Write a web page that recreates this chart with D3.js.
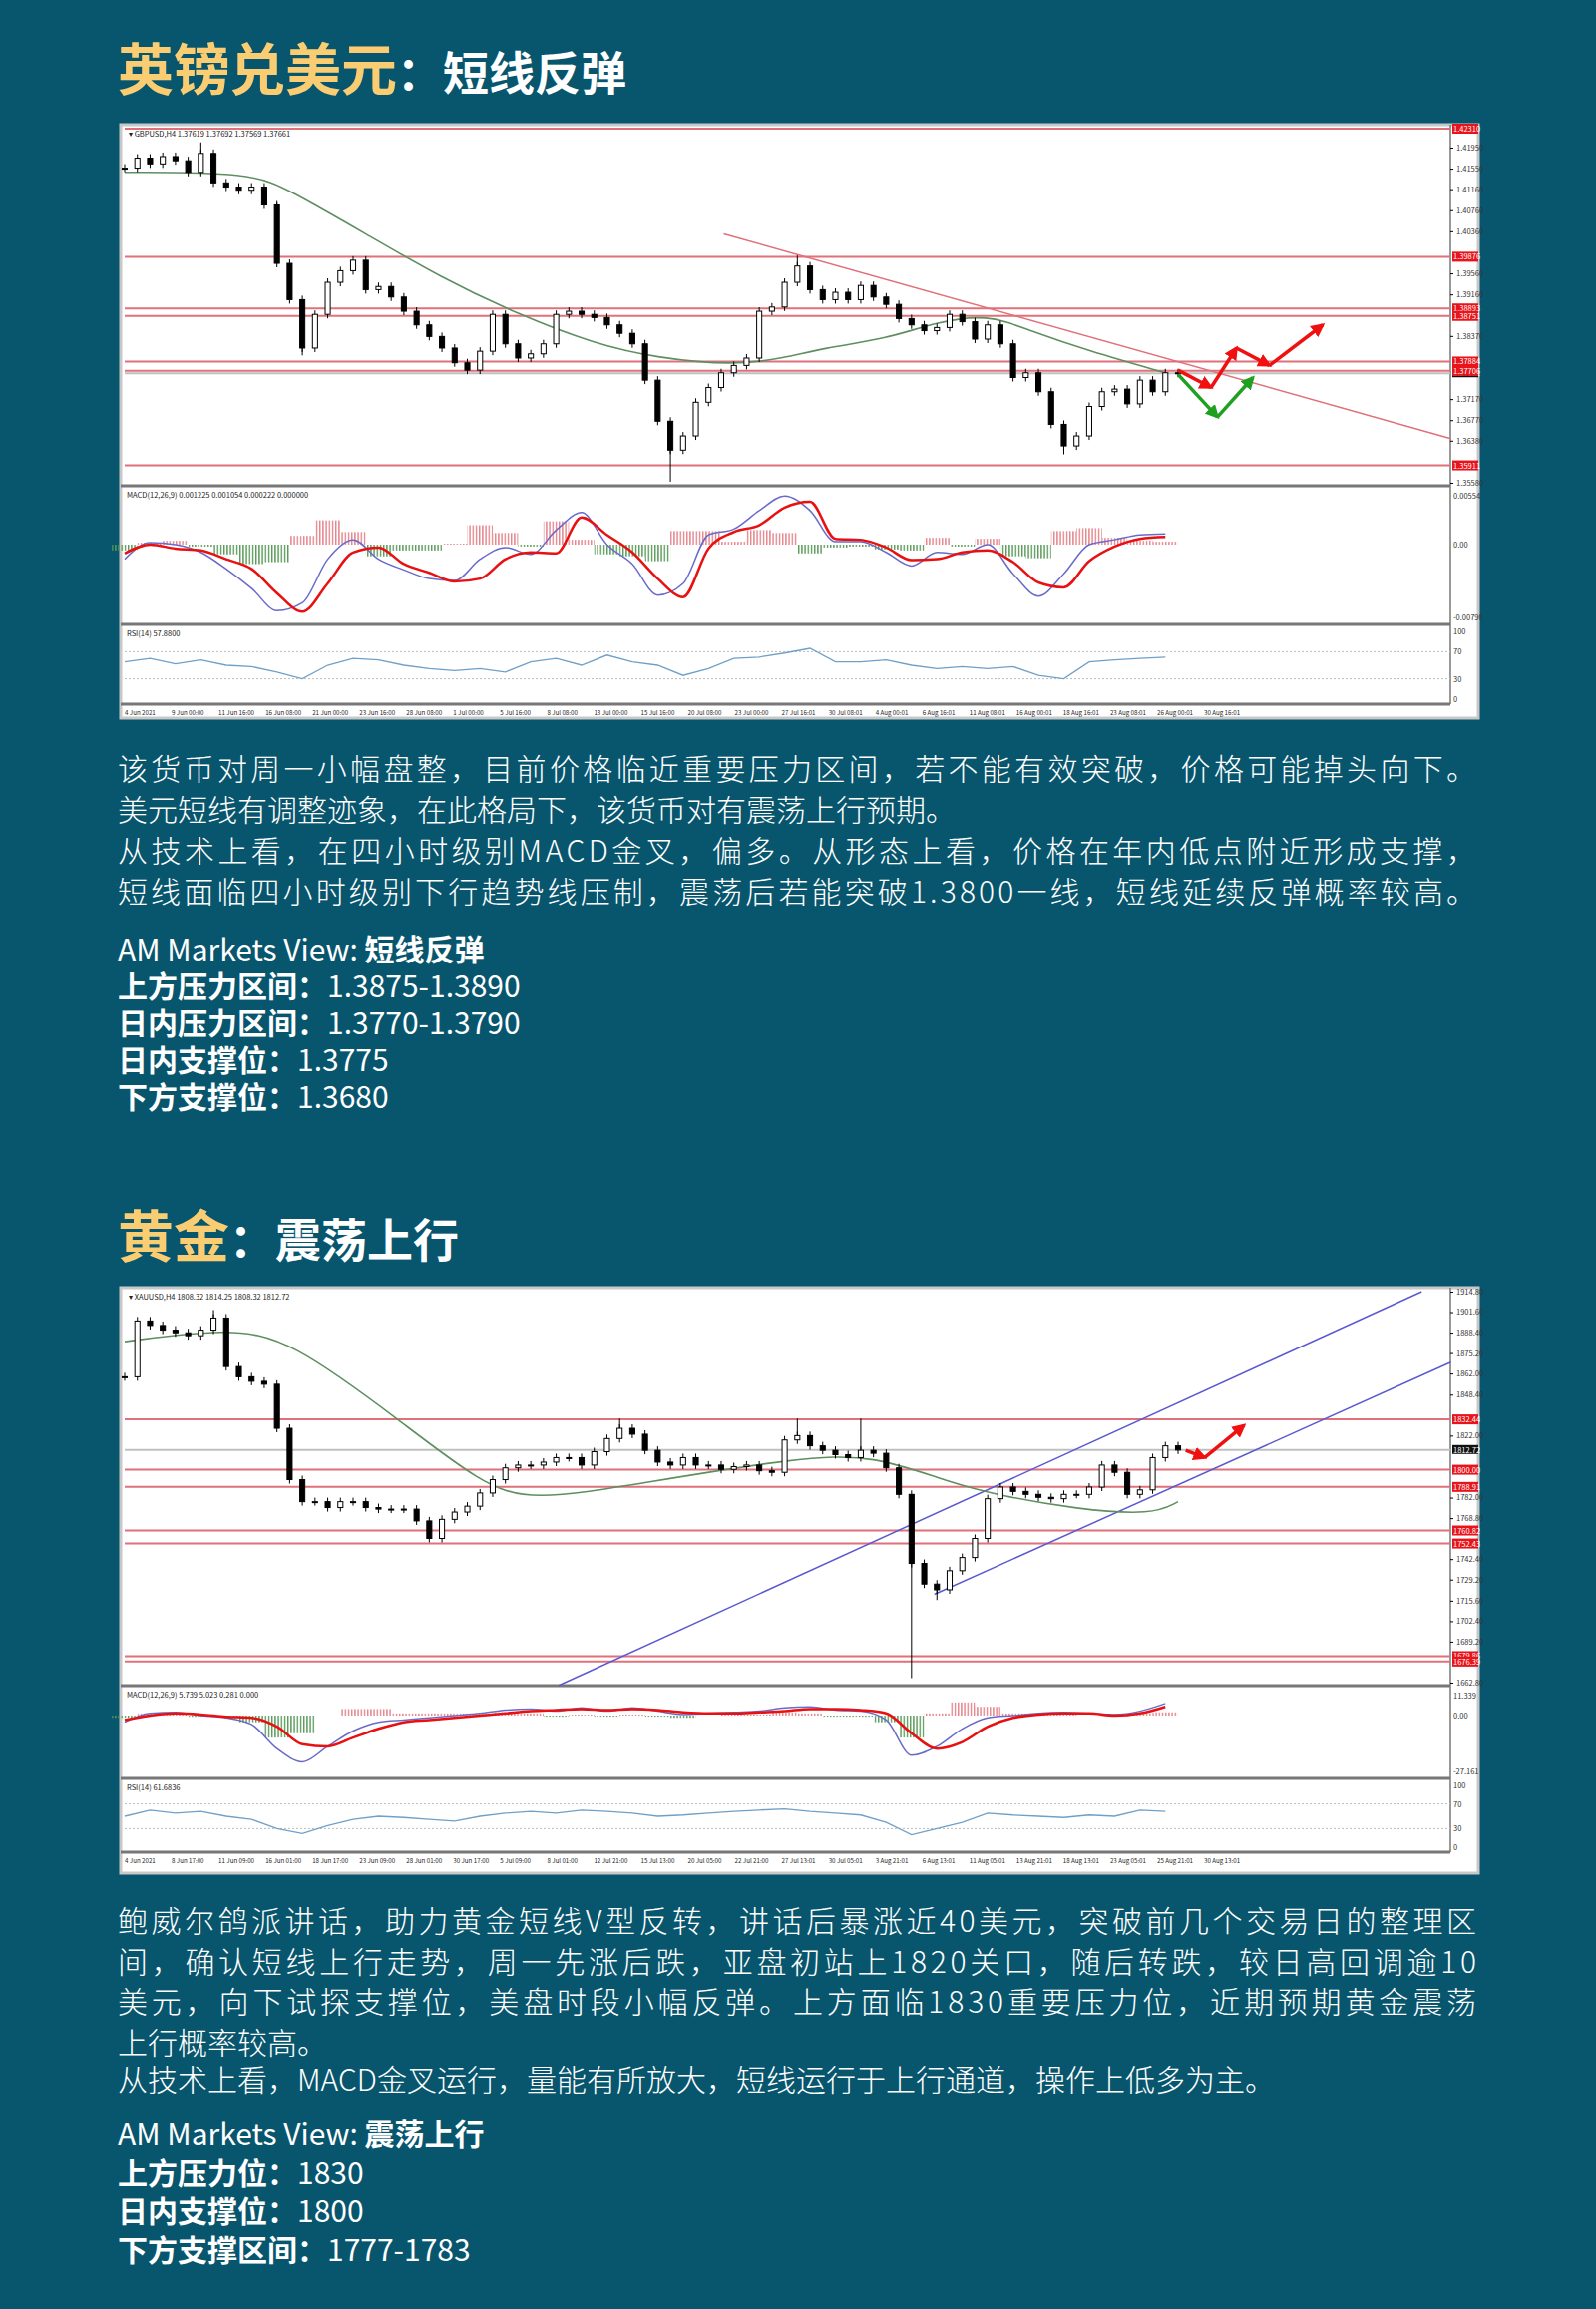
<!DOCTYPE html>
<html lang="zh">
<head>
<meta charset="UTF-8">
<title>AM Markets View</title>
<script src="https://cdn.jsdelivr.net/npm/d3@7"></script>
<style>
  body { margin: 0; background: #08566e; }
  text { font-family: "Noto Sans CJK SC", "Noto Sans", sans-serif; }
</style>
</head>
<body>
<script>
// ---------- GBPUSD data ----------
const gbpClose = [1.4156,1.4175,1.4164,1.4178,1.4170,1.4148,1.4184,1.4128,1.4120,1.4114,1.4120,1.4086,
  1.3975,1.3906,1.3814,1.3878,1.3939,1.3961,1.3981,1.3925,1.3931,1.3911,1.3884,1.3858,1.3836,1.3814,
  1.3786,1.3772,1.3808,1.3878,1.3822,1.3795,1.3803,1.3822,1.3878,1.3884,1.3878,1.3872,1.3858,1.3842,
  1.3822,1.3753,1.3675,1.3620,1.3647,1.3711,1.3739,1.3767,1.3781,1.3795,1.3884,1.3892,1.3939,1.3970,
  1.3925,1.3906,1.3920,1.3906,1.3933,1.3911,1.3897,1.3870,1.3858,1.3847,1.3853,1.3878,1.3864,1.3831,
  1.3858,1.3822,1.3758,1.3767,1.3731,1.3669,1.3628,1.3647,1.3703,1.3731,1.3736,1.3708,1.3753,1.3731,
  1.3767,1.3766];
const gbpWicks = [[6, 1.4205], [12, 1.4090], [14, 1.3800], [43, 1.3560], [53, 1.3990], [74, 1.3612]];
const gbpMaBar = [0,10,13,19,25,31,37,42,48,52,55,60,64,68,71,76,82];
const gbpMaVal = [1.4148,1.4148,1.4114,1.4031,1.3947,1.3878,1.3822,1.3795,1.3781,1.3795,1.3814,1.3831,
  1.3864,1.3878,1.3850,1.3808,1.3767];
const gbpLevels = [1.42310, 1.39876, 1.38893, 1.38751, 1.37884, 1.37706, 1.35911];
const gbpLast = 1.37661;
const gbpTicks = [1.41950,1.41550,1.41160,1.40760,1.40360,1.39560,1.39160,1.38370,1.37570,1.37170,
  1.36770,1.36380,1.35580];
const gbpTrend = [[47.2, 1.4031], [104.5, 1.3642]];
const gbpRedArrow = [[83, 1.3772], [85.6, 1.3739], [87.6, 1.3814], [90.2, 1.3781], [94.4, 1.3858]];
const gbpGreenArrow = [[83, 1.3764], [86.1, 1.3683], [88.9, 1.3758]];
// MACD values in 1e-3, sampled every 2 bars
const gbpSignal = [-0.9,0.0,-0.4,-0.6,-1.5,-2.5,-5.0,-6.9,-4.0,-0.8,-0.3,-2.0,-2.9,-3.8,-3.5,-1.5,-0.8,
  -0.9,2.8,1.0,-0.8,-3.5,-5.4,-0.4,1.3,2.0,3.8,4.4,0.6,0.5,-0.3,-1.6,-1.5,-0.8,-0.6,-1.8,-3.9,-4.4,-1.7,
  -0.2,0.6,0.8];
const gbpMacd = [-1.5,0.2,0.0,-0.8,-2.5,-4.5,-6.8,-6.0,-1.5,0.5,-1.5,-2.6,-3.5,-3.7,-1.5,-0.3,-1.0,1.5,
  3.3,0.0,-2.0,-5.2,-4.0,1.0,1.6,3.5,5.0,3.5,0.3,0.3,-0.8,-2.2,-0.8,-1.0,0.0,-3.0,-5.3,-3.0,0.0,0.5,1.0,1.1];
const gbpHist = [-0.6,0.2,0.4,-0.2,-1.0,-2.0,-1.8,0.9,2.5,1.3,-1.2,-0.6,-0.6,0.1,2.0,1.2,-0.2,2.4,0.5,
  -1.0,-1.2,-1.7,1.4,1.4,0.3,1.5,1.2,-0.9,-0.3,-0.2,-0.5,-0.6,0.7,-0.2,0.6,-1.2,-1.4,1.4,1.7,0.7,0.4,0.3];
const gbpRsi = [55,60,52,58,50,48,40,30,50,60,58,50,45,42,45,40,55,60,50,65,55,50,35,45,60,62,68,75,55,
  55,58,50,45,48,45,48,35,30,55,58,60,62];
const gbpDates = ["4 Jun 2021","9 Jun 00:00","11 Jun 16:00","16 Jun 08:00","21 Jun 00:00","23 Jun 16:00",
  "28 Jun 08:00","1 Jul 00:00","5 Jul 16:00","8 Jul 08:00","13 Jul 00:00","15 Jul 16:00","20 Jul 08:00",
  "23 Jul 00:00","27 Jul 16:01","30 Jul 08:01","4 Aug 00:01","6 Aug 16:01","11 Aug 08:01","16 Aug 00:01",
  "18 Aug 16:01","23 Aug 08:01","26 Aug 00:01","30 Aug 16:01"];

// ---------- XAUUSD data ----------
const xauClose = [1859.9,1895.9,1893.0,1890.0,1888.3,1886.4,1890.0,1897.8,1866.5,1859.9,1857.0,1855.1,
  1826.7,1793.6,1779.4,1779.4,1775.6,1779.4,1779.4,1775.6,1774.6,1774.6,1774.6,1767.0,1755.7,1768.0,
  1772.7,1776.5,1785.0,1793.6,1801.2,1803.0,1803.0,1804.9,1807.8,1807.8,1803.0,1811.6,1820.1,1826.7,
  1822.9,1812.5,1804.9,1803.0,1807.8,1803.0,1803.0,1800.2,1802.0,1803.0,1799.3,1798.3,1819.2,1822.0,
  1815.4,1812.5,1809.7,1807.8,1812.5,1810.6,1801.2,1784.1,1739.6,1726.3,1722.6,1734.9,1743.4,1755.7,
  1781.3,1788.8,1786.0,1784.1,1782.2,1781.3,1784.1,1784.1,1788.8,1803.0,1798.3,1784.1,1787.0,1807.8,
  1815.4,1812.7];
const xauWicks = [[7, 1903.0], [39, 1833.0], [53, 1833.0], [58, 1833.0], [62, 1665.7], [64, 1716.0]];
const xauMaBar = [0,8,13,22,28,32,41,53,59,65,69,75,81,83];
const xauMaVal = [1882.6,1891.1,1884.5,1829.6,1791.7,1779.4,1791.7,1807.8,1809.7,1791.7,1783.2,1774.6,
  1770.8,1779.4];
const xauLevels = [1832.44, 1800.00, 1788.91, 1760.82, 1752.43, 1679.86, 1676.39];
const xauLast = 1812.72;
const xauTicks = [1914.80,1901.60,1888.40,1875.20,1862.00,1848.40,1822.00,1795.60,1782.00,1768.80,
  1742.40,1729.20,1715.60,1702.40,1689.20,1662.80];
const xauChannelUp = [[34.2, 1661.0], [102.2, 1914.8]];
const xauChannelLow = [[63.8, 1719.7], [104.5, 1869.3]];
const xauRedArrow = [[83.6, 1812.5], [85.1, 1807.8], [88.2, 1828.6]];
const xauSignal = [-2,0,1,0.5,-0.5,-1,-5,-13,-14,-10,-6,-3,-2,-1,0,1,2,2.5,3,2.5,3,2.5,1.5,1,1,1.5,2,3,
  3,2.5,1,-8,-15,-12,-5,-1,0.5,1,1,0,1,4];
const xauMacd = [-3,1,1.5,0,-1,-4,-15,-21,-14,-7,-3,-2,-1,0,1,2.5,3,2,3.5,2,3.5,2,0.5,1,1.5,2,3.5,4,2.5,
  2,-2,-18,-14,-6,-1,0,1,1.5,1,0.5,2,5.5];
const xauHist = [-1,1,0.5,-0.5,-0.5,-3,-10,-8,0,3,3,1,1,1,1,1.5,1,-0.5,0.5,-0.5,0.5,-0.5,-1,0,0.5,0.5,
  1.5,1,-0.5,-0.5,-3,-10,1,6,4,1,0.5,0.5,0,0.5,1,1.5];
const xauRsi = [50,60,55,58,50,45,30,22,35,45,50,48,45,42,50,55,58,55,60,58,55,50,52,55,58,60,62,58,55,
  52,40,20,30,40,55,52,50,48,52,50,60,58];
const xauDates = ["4 Jun 2021","8 Jun 17:00","11 Jun 09:00","16 Jun 01:00","18 Jun 17:00","23 Jun 09:00",
  "28 Jun 01:00","30 Jun 17:00","5 Jul 09:00","8 Jul 01:00","12 Jul 21:00","15 Jul 13:00","20 Jul 05:00",
  "22 Jul 21:00","27 Jul 13:01","30 Jul 05:01","3 Aug 21:01","6 Aug 13:01","11 Aug 05:01","13 Aug 21:01",
  "18 Aug 13:01","23 Aug 05:01","25 Aug 21:01","30 Aug 13:01"];

// ---------- texts ----------
const gbpTitle = ["英镑兑美元", "：短线反弹"];
const gbpPara = [
  ["该货币对周一小幅盘整，目前价格临近重要压力区间，若不能有效突破，价格可能掉头向下。", true],
  ["美元短线有调整迹象，在此格局下，该货币对有震荡上行预期。", false],
  ["从技术上看，在四小时级别MACD金叉，偏多。从形态上看，价格在年内低点附近形成支撑，", true],
  ["短线面临四小时级别下行趋势线压制，震荡后若能突破1.3800一线，短线延续反弹概率较高。", true]];
const gbpView = [["AM Markets View:  ", "短线反弹"], ["上方压力区间：", "1.3875-1.3890"],
  ["日内压力区间：", "1.3770-1.3790"], ["日内支撑位：", "1.3775"], ["下方支撑位：", "1.3680"]];
const xauTitle = ["黄金", "：震荡上行"];
const xauPara = [
  ["鲍威尔鸽派讲话，助力黄金短线V型反转，讲话后暴涨近40美元，突破前几个交易日的整理区", true],
  ["间，确认短线上行走势，周一先涨后跌，亚盘初站上1820关口，随后转跌，较日高回调逾10", true],
  ["美元，向下试探支撑位，美盘时段小幅反弹。上方面临1830重要压力位，近期预期黄金震荡", true],
  ["上行概率较高。", false],
  ["从技术上看，MACD金叉运行，量能有所放大，短线运行于上行通道，操作上低多为主。", false]];
const xauView = [["AM Markets View: ", "震荡上行"], ["上方压力位：", "1830"], ["日内支撑位：", "1800"],
  ["下方支撑区间：", "1777-1783"]];

const W = 1600, H = 2315;
const svg = d3.select("body").append("svg").attr("width", W).attr("height", H);
svg.append("rect").attr("width", W).attr("height", H).attr("fill", "#08566e");

// vertical-stripe patterns for the MACD histogram
const defs = svg.append("defs");
[["histUp", "#e4848c"], ["histDn", "#5a9a5a"]].forEach(p => {
  const pat = defs.append("pattern").attr("id", p[0]).attr("patternUnits", "userSpaceOnUse")
    .attr("width", 3.2).attr("height", 10);
  pat.append("rect").attr("width", 1.4).attr("height", 10).attr("fill", p[1]);
});

const LEFT = 121, RIGHT = 1482, AXIS_X = 1454, PLOT_L = 125;
const small = sel => sel.attr("font-size", 7.5).attr("fill", "#333").attr("font-family", "DejaVu Sans");

function drawChart(o) {
  const g = svg.append("g");
  g.append("rect").attr("x", LEFT).attr("y", o.top).attr("width", RIGHT - LEFT).attr("height", o.bottom - o.top)
    .attr("fill", "#fff").attr("stroke", "#c8c8c8").attr("stroke-width", 3);

  const n = o.close.length;
  const xMax = (n - 1) * (AXIS_X - PLOT_L) / (1181 - PLOT_L);
  const x = d3.scaleLinear().domain([0, xMax]).range([PLOT_L, AXIS_X]);
  const y = d3.scaleLinear().domain(o.yDomain).range([o.mainBottom - 3, o.top + 4]);

  [o.mainBottom, o.macdBottom, o.rsiBottom].forEach(v => {
    g.append("line").attr("x1", LEFT).attr("x2", AXIS_X).attr("y1", v).attr("y2", v)
      .attr("stroke", "#777").attr("stroke-width", 3);
  });
  g.append("line").attr("x1", AXIS_X).attr("x2", AXIS_X).attr("y1", o.top).attr("y2", o.rsiBottom)
    .attr("stroke", "#777").attr("stroke-width", 1.5);

  // price axis: skip ticks hidden behind level labels
  const busy = o.levels.concat([o.last]);
  const ticks = o.ticks.filter(t => busy.every(v => Math.abs(y(v) - y(t)) > 9));
  const ax = g.append("g").attr("transform", `translate(${AXIS_X},0)`)
    .call(d3.axisRight(y).tickValues(ticks).tickSize(3).tickFormat(o.fmt));
  ax.select(".domain").remove();
  small(ax.selectAll("text"));

  g.append("line").attr("x1", PLOT_L).attr("x2", AXIS_X).attr("y1", y(o.last)).attr("y2", y(o.last))
    .attr("stroke", "#c0c0c0").attr("stroke-width", 2);
  g.append("rect").attr("x", AXIS_X + 2).attr("y", y(o.last) - 5).attr("width", 26).attr("height", 9).attr("fill", "#111");
  small(g.append("text").attr("x", AXIS_X + 3).attr("y", y(o.last) + 3).text(o.fmt(o.last))).attr("fill", "#fff");

  o.levels.forEach(v => {
    g.append("line").attr("x1", PLOT_L).attr("x2", AXIS_X).attr("y1", y(v)).attr("y2", y(v))
      .attr("stroke", "#e0707a").attr("stroke-width", 2);
    g.append("rect").attr("x", AXIS_X + 2).attr("y", y(v) - 5).attr("width", 26).attr("height", 10).attr("fill", "#e8141b");
    small(g.append("text").attr("x", AXIS_X + 3).attr("y", y(v) + 3).text(o.fmt(v))).attr("fill", "#fff");
  });

  const lineGen = d3.line().x(d => x(d[0])).y(d => y(d[1]));
  o.trends.forEach(t => {
    g.append("path").attr("d", lineGen(t.pts)).attr("fill", "none").attr("stroke", t.color).attr("stroke-width", 1.5);
  });

  g.append("path").attr("d", d3.line().x(d => x(d[0])).y(d => y(d[1])).curve(d3.curveBasis)(o.maBar.map((b, i) => [b, o.maVal[i]])))
    .attr("fill", "none").attr("stroke", "#5f8f60").attr("stroke-width", 1.6);

  // candles (open = previous close)
  const bw = (x(1) - x(0)) * 0.4;
  o.close.forEach((c, i) => {
    const op = i === 0 ? c : o.close[i - 1];
    const hi = Math.max(op, c), lo = Math.min(op, c);
    g.append("line").attr("x1", x(i)).attr("x2", x(i)).attr("y1", y(hi) - 4).attr("y2", y(lo) + 4)
      .attr("stroke", "#000").attr("stroke-width", 1);
    g.append("rect").attr("x", x(i) - bw / 2).attr("y", y(hi)).attr("width", bw).attr("height", Math.max(1, y(lo) - y(hi)))
      .attr("fill", c >= op ? "#fff" : "#000").attr("stroke", "#000").attr("stroke-width", 1);
  });
  o.wicks.forEach(w => {
    g.append("line").attr("x1", x(w[0])).attr("x2", x(w[0])).attr("y1", y(o.close[w[0]])).attr("y2", y(w[1]))
      .attr("stroke", "#000").attr("stroke-width", 1);
  });

  o.arrows.forEach((a, k) => {
    const mid = `${o.id}-arr${k}`;
    defs.append("marker").attr("id", mid).attr("viewBox", "0 0 10 10").attr("refX", 8).attr("refY", 5)
      .attr("markerWidth", 4).attr("markerHeight", 4).attr("orient", "auto")
      .append("path").attr("d", "M0,0L10,5L0,10z").attr("fill", a.color);
    for (let i = 0; i < a.pts.length - 1; i++) {
      g.append("path").attr("d", lineGen([a.pts[i], a.pts[i + 1]])).attr("stroke", a.color).attr("stroke-width", 3.5)
        .attr("fill", "none").attr("marker-end", `url(#${mid})`);
    }
  });

  small(g.append("text").attr("x", PLOT_L + 4).attr("y", o.top + 12).text(o.label)).attr("fill", "#222");

  // MACD panel
  const step = x(2) - x(0);
  const xm = i => x(i * 2);
  const ym = d3.scaleLinear().domain(o.macdDomain).range([o.macdBottom - 3, o.mainBottom + 5]);
  g.append("g").selectAll("rect").data(o.hist).join("rect")
    .attr("x", (d, i) => xm(i) - step / 2).attr("width", step)
    .attr("y", d => Math.min(ym(0), ym(d))).attr("height", d => Math.abs(ym(d) - ym(0)))
    .attr("fill", d => d >= 0 ? "url(#histUp)" : "url(#histDn)");
  g.append("path").attr("d", d3.line().x((d, i) => xm(i)).y(d => ym(d)).curve(d3.curveMonotoneX)(o.macd))
    .attr("fill", "none").attr("stroke", "#6a6ac8").attr("stroke-width", 1.5);
  g.append("path").attr("d", d3.line().x((d, i) => xm(i)).y(d => ym(d)).curve(d3.curveMonotoneX)(o.signal))
    .attr("fill", "none").attr("stroke", "#e81010").attr("stroke-width", 2.5);
  small(g.append("text").attr("x", PLOT_L + 2).attr("y", o.mainBottom + 12).text(o.macdLabel)).attr("fill", "#222");
  small(g.append("text").attr("x", AXIS_X + 3).attr("y", o.mainBottom + 13).text(o.macdTicks[0]));
  small(g.append("text").attr("x", AXIS_X + 3).attr("y", ym(0) + 3).text("0.00"));
  small(g.append("text").attr("x", AXIS_X + 3).attr("y", o.macdBottom - 4).text(o.macdTicks[1]));

  // RSI panel
  const yr = d3.scaleLinear().domain([0, 100]).range([o.rsiBottom - 5, o.macdBottom + 7]);
  [70, 30].forEach(v => g.append("line").attr("x1", PLOT_L).attr("x2", AXIS_X).attr("y1", yr(v)).attr("y2", yr(v))
    .attr("stroke", "#bbb").attr("stroke-dasharray", "2,2"));
  g.append("path").attr("d", d3.line().x((d, i) => xm(i)).y(d => yr(d))(o.rsi))
    .attr("fill", "none").attr("stroke", "#6fa0c8").attr("stroke-width", 1.3);
  small(g.append("text").attr("x", PLOT_L + 2).attr("y", o.macdBottom + 12).text(o.rsiLabel)).attr("fill", "#222");
  [100, 70, 30, 0].forEach(v => small(g.append("text").attr("x", AXIS_X + 3).attr("y", yr(v) + 3).text(v)));

  // date labels
  const xd = d3.scalePoint().domain(o.dates).range([PLOT_L, 1207]);
  o.dates.forEach(d => {
    g.append("text").attr("x", xd(d)).attr("y", o.rsiBottom + 11).attr("font-size", 6.2).attr("fill", "#222")
      .attr("font-family", "DejaVu Sans Condensed, DejaVu Sans").text(d);
  });
}

drawChart({
  id: "gbp", top: 125, bottom: 720, mainBottom: 487, macdBottom: 626, rsiBottom: 706,
  close: gbpClose, wicks: gbpWicks, maBar: gbpMaBar, maVal: gbpMaVal, levels: gbpLevels, last: gbpLast,
  ticks: gbpTicks, yDomain: [1.3558, 1.4231], fmt: d3.format(".5f"),
  trends: [{ pts: gbpTrend, color: "#e0707a" }],
  arrows: [{ pts: gbpRedArrow, color: "#f01010" }, { pts: gbpGreenArrow, color: "#20a020" }],
  label: "▾ GBPUSD,H4  1.37619 1.37692 1.37569 1.37661",
  macd: gbpMacd, signal: gbpSignal, hist: gbpHist, macdDomain: [-7.9, 5.54],
  macdLabel: "MACD(12,26,9) 0.001225 0.001054 0.000222 0.000000",
  macdTicks: ["0.00554", "-0.00790"],
  rsi: gbpRsi, rsiLabel: "RSI(14) 57.8800", dates: gbpDates
});

drawChart({
  id: "xau", top: 1291, bottom: 1878, mainBottom: 1690, macdBottom: 1783, rsiBottom: 1857,
  close: xauClose, wicks: xauWicks, maBar: xauMaBar, maVal: xauMaVal, levels: xauLevels, last: xauLast,
  ticks: xauTicks, yDomain: [1662.8, 1914.8], fmt: d3.format(".2f"),
  trends: [{ pts: xauChannelUp, color: "#5a5ad0" }, { pts: xauChannelLow, color: "#5a5ad0" }],
  arrows: [{ pts: xauRedArrow, color: "#f01010" }],
  label: "▾ XAUUSD,H4  1808.32 1814.25 1808.32 1812.72",
  macd: xauMacd, signal: xauSignal, hist: xauHist, macdDomain: [-27.161, 11.339],
  macdTicks: ["11.339", "-27.161"],
  macdLabel: "MACD(12,26,9) 5.739 5.023 0.281 0.000",
  rsi: xauRsi, rsiLabel: "RSI(14) 61.6836", dates: xauDates
});

// ---------- text blocks ----------
function title(t, yc) {
  const tx = svg.append("text").attr("x", 118).attr("y", yc + 20);
  tx.append("tspan").attr("fill", "#fbcd73").attr("font-size", 56).attr("font-weight", 700).text(t[0]);
  tx.append("tspan").attr("fill", "#fff").attr("font-size", 46).attr("font-weight", 700).text(t[1]);
}
function para(lines, y0, step) {
  lines.forEach((l, i) => {
    const t = svg.append("text").attr("x", 118).attr("y", y0 + i * step + 11).attr("fill", "#fff")
      .attr("font-size", 30).attr("font-weight", 300).text(l[0]);
    if (l[1]) t.attr("textLength", 1362).attr("lengthAdjust", "spacing");
  });
}
function view(items, ys) {
  items.forEach((it, i) => {
    const t = svg.append("text").attr("x", 118).attr("y", ys[i] + 11).attr("fill", "#fff").attr("font-size", 30);
    t.append("tspan").attr("font-weight", i === 0 ? 400 : 700).text(it[0]);
    t.append("tspan").attr("font-weight", i === 0 ? 700 : 400).text(it[1]);
  });
}

title(gbpTitle, 70);
para(gbpPara, 771, 41);
view(gbpView, [952, 989, 1026, 1063, 1100]);
title(xauTitle, 1240);
para(xauPara.slice(0, 4), 1926, 40.5);
para(xauPara.slice(4), 2085, 40);
view(xauView, [2140, 2179, 2217, 2256]);
</script>
</body>
</html>
